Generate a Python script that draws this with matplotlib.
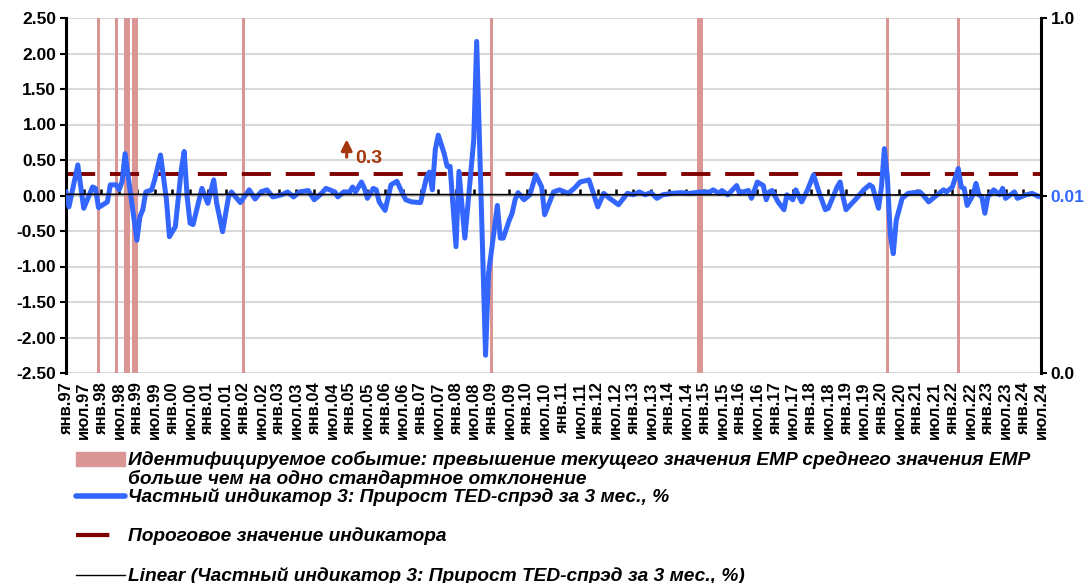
import numpy as np
import matplotlib.pyplot as plt
from matplotlib.lines import Line2D
from matplotlib.patches import Rectangle

plt.rcParams['font.family'] = ['Liberation Sans', 'DejaVu Sans']

# months counted from Jan 1997
months = [0, 1, 4, 6, 9, 10, 11, 14, 15, 17, 18, 19, 20, 22, 24, 25, 26, 27, 29, 30,
          32, 34, 35, 37, 39, 40, 41, 42, 43, 46, 48, 50, 51, 53, 55, 56, 59, 62, 64, 66,
          68, 70, 73, 75, 77, 79, 82, 84, 86, 88, 91, 92, 94, 96, 97, 98, 100, 101, 102, 104,
          105, 106, 108, 110, 112, 114, 115, 117, 120, 122, 123, 124, 125, 126, 128, 129, 130, 132, 133, 135,
          138, 139, 142, 143, 146, 147, 148, 150, 151, 152, 153, 155, 157, 159, 161, 162, 164, 165, 167, 170,
          172, 174, 177, 180, 182, 184, 187, 190, 192, 194, 196, 198, 200, 202, 205, 208, 211, 215, 218, 219,
          221, 222, 224, 227, 228, 229, 231, 232, 234, 236, 237, 238, 239, 241, 243, 244, 246, 247, 249, 251,
          253, 255, 257, 258, 261, 262, 263, 264, 266, 268, 270, 272, 273, 275, 276, 277, 278, 279, 280, 281,
          283, 285, 289, 290, 292, 294, 297, 298, 300, 302, 303, 304, 305, 307, 308, 309, 310, 311, 312, 314,
          316, 317, 318, 321, 322, 325, 327, 329]

# TED spread change over 3 months, %
ted_change = [0.05, -0.16, 0.43, -0.18, 0.12, 0.10, -0.17, -0.09, 0.15, 0.15, 0.08, 0.20, 0.59, -0.02, -0.63, -0.30, -0.20, 0.05, 0.08, 0.22,
              0.57, -0.06, -0.58, -0.44, 0.36, 0.62, -0.02, -0.39, -0.41, 0.10, -0.11, 0.22, -0.11, -0.51, -0.02, 0.05, -0.10, 0.08, -0.05, 0.05,
              0.08, -0.02, 0.01, 0.05, -0.02, 0.05, 0.07, -0.06, 0.01, 0.10, 0.05, -0.02, 0.05, 0.05, 0.12, 0.05, 0.19, 0.10, -0.04, 0.10,
              0.08, -0.09, -0.21, 0.15, 0.20, 0.02, -0.06, -0.09, -0.10, 0.25, 0.33, 0.08, 0.65, 0.85, 0.59, 0.41, 0.41, -0.72, 0.34, -0.60,
              0.78, 2.17, -2.25, -1.10, -0.14, -0.60, -0.60, -0.35, -0.25, -0.06, 0.04, -0.06, 0.01, 0.29, 0.12, -0.27, -0.06, 0.05, 0.08, 0.03,
              0.10, 0.19, 0.22, -0.16, 0.03, -0.04, -0.13, 0.03, 0.01, 0.05, 0.01, 0.04, -0.04, 0.01, 0.03, 0.04, 0.03, 0.05, 0.05, 0.08,
              0.03, 0.07, 0.01, 0.14, 0.03, 0.05, 0.07, -0.04, 0.19, 0.14, -0.06, 0.05, 0.07, -0.09, -0.20, 0.01, -0.06, 0.08, -0.09, 0.08,
              0.29, 0.03, -0.20, -0.18, 0.12, 0.19, -0.02, -0.20, -0.11, -0.02, 0.08, 0.15, 0.12, -0.18, 0.12, 0.66, 0.26, -0.56, -0.82, -0.35,
              -0.04, 0.03, 0.05, 0.01, -0.09, -0.02, 0.08, 0.05, 0.12, 0.38, 0.12, 0.10, -0.14, 0.01, 0.17, 0.01, -0.02, -0.25, -0.02, 0.08,
              0.01, 0.10, -0.04, 0.05, -0.04, 0.01, 0.03, -0.01]

# months with the identified EMP event
event_months = [11, 17, 20, 21, 23, 24, 60, 144, 214, 215, 278, 302]

threshold = 0.3

tick_months = list(range(0, 331, 6))
tick_labels = [('янв.' if m % 12 == 0 else 'июл.') + '%02d' % ((97 + m // 12) % 100) for m in tick_months]

blue = '#3366FF'
band = '#DA9694'
dark_red = '#800000'
brown = '#A5380C'

fig = plt.figure(figsize=(10.91, 5.83), dpi=100)
ax = fig.add_axes([66 / 1091, 1 - 373 / 583, 975 / 1091, 355 / 583])

ax.set_xlim(0, 330)
ax.set_ylim(-2.5, 2.5)

ax.set_yticks(np.arange(-2.5, 2.51, 0.5))
ax.set_yticklabels(['%.2f' % v for v in np.arange(-2.5, 2.51, 0.5)], fontsize=12.5, fontweight='bold')
ax.yaxis.grid(True, color='#D9D9D9', linewidth=1.5, zorder=0)
ax.set_axisbelow(True)

ax.bar(event_months, [5] * len(event_months), bottom=-2.5, width=1.0, color=band, zorder=1)
ax.axhline(threshold, color=dark_red, linewidth=2.8, dashes=(7.5, 3.8), zorder=2)
ax.plot(months, ted_change, color=blue, linewidth=3.6, solid_joinstyle='round', zorder=3)

# linear trend of the indicator
k, b = np.polyfit(months, ted_change, 1)
xs = np.array([0, 330])
ax.plot(xs, k * xs + b, color='black', linewidth=1.2, zorder=4)

ax.set_xticks(tick_months)
ax.set_xticklabels(tick_labels, rotation=90, fontsize=12, fontweight='bold', va='top', ha='center')
ax.tick_params(axis='x', length=0, pad=6)
ax.tick_params(axis='y', direction='out', length=4, width=1.5, pad=3)

for s in ['top', 'right', 'bottom']:
    ax.spines[s].set_visible(False)
ax.spines['left'].set_linewidth(2.2)

# horizontal axis crossing at zero
zero_ax = ax.secondary_xaxis(0.5)
zero_ax.set_xticks(tick_months)
zero_ax.set_xticklabels([])
zero_ax.tick_params(direction='out', length=4, width=1.8)
zero_ax.spines['bottom'].set_linewidth(2.2)

# right log axis
ax2 = ax.twinx()
ax2.set_yscale('log')
ax2.set_ylim(1e-4, 1)
ax2.set_yticks([1e-4, 1e-2, 1])
ax2.set_yticklabels(['0.0', '0.01', '1.0'], fontsize=12.5, fontweight='bold')
ax2.yaxis.set_minor_locator(plt.NullLocator())
ax2.tick_params(axis='y', direction='out', length=4, width=1.5, pad=3)
ax2.get_yticklabels()[1].set_color(blue)
for s in ['top', 'left', 'bottom']:
    ax2.spines[s].set_visible(False)
ax2.spines['right'].set_linewidth(2.2)

ax.annotate('', xy=(95, 0.83), xytext=(95, 0.50),
            arrowprops=dict(arrowstyle='-|>', color=brown, lw=2.2, mutation_scale=16))
ax.text(98, 0.52, '0.3', color=brown, fontsize=14, fontweight='bold', va='center', ha='left')

# legend
W, H = 1091, 583
leg_font = dict(family=['Liberation Sans', 'DejaVu Sans'],
                style='italic', fontweight='bold', fontsize=13.8)


def fx(x):
    return x / W


def fy(y):
    return 1 - y / H


fig.add_artist(Rectangle((fx(76), fy(466)), fx(49), 14 / H, color=band, transform=fig.transFigure))
fig.text(fx(128), fy(460), 'Идентифицируемое событие: превышение текущего значения EMP среднего значения EMP',
         va='center', ha='left', **leg_font)
fig.text(fx(128), fy(479), 'больше чем на одно стандартное отклонение', va='center', ha='left', **leg_font)

fig.add_artist(Line2D([fx(76), fx(125)], [fy(496), fy(496)], color=blue, linewidth=4,
                      solid_capstyle='round', transform=fig.transFigure))
fig.text(fx(128), fy(497), 'Частный индикатор 3: Прирост TED-спрэд за 3 мес., %', va='center', ha='left', **leg_font)

fig.add_artist(Line2D([fx(76), fx(125)], [fy(535), fy(535)], color=dark_red, linewidth=3,
                      dashes=(8, 4), transform=fig.transFigure))
fig.text(fx(128), fy(536), 'Пороговое значение индикатора', va='center', ha='left', **leg_font)

fig.add_artist(Line2D([fx(76), fx(125)], [fy(575), fy(575)], color='black', linewidth=1,
                      transform=fig.transFigure))
fig.text(fx(128), fy(576), 'Linear (Частный индикатор 3: Прирост TED-спрэд за 3 мес., %)', va='center', ha='left', **leg_font)

fig.savefig('out.png', dpi=100)
